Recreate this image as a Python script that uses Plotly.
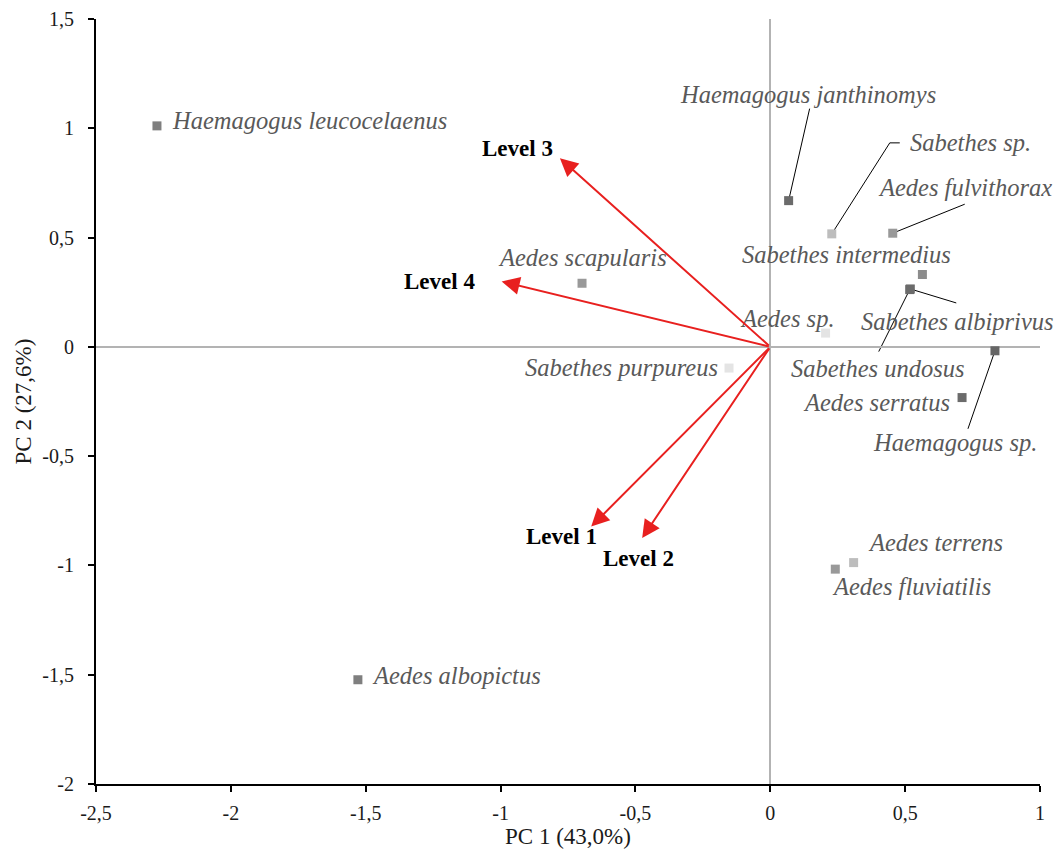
import plotly.graph_objects as go

# ---- data ----
species = [
    "Haemagogus leucocelaenus", "Aedes albopictus", "Aedes scapularis",
    "Sabethes purpureus", "Aedes sp.", "Haemagogus janthinomys",
    "Sabethes sp.", "Aedes fulvithorax", "Sabethes intermedius",
    "Sabethes albiprivus", "Sabethes undosus", "Haemagogus sp.",
    "Aedes serratus", "Aedes terrens", "Aedes fluviatilis",
]
pc1 = [-2.274, -1.529, -0.698, -0.153, 0.205, 0.068, 0.228, 0.454, 0.564,
       0.519, 0.517, 0.833, 0.711, 0.309, 0.241]
pc2 = [1.011, -1.523, 0.291, -0.097, 0.063, 0.669, 0.517, 0.520, 0.331,
       0.265, 0.262, -0.018, -0.232, -0.987, -1.017]
marker_colors = ["#7f7f7f", "#7f7f7f", "#999999", "#e4e4e4", "#e4e4e4",
                 "#6b6b6b", "#bdbdbd", "#999999", "#8c8c8c", "#6b6b6b",
                 "#6b6b6b", "#666666", "#6b6b6b", "#bdbdbd", "#999999"]

levels = ["Level 1", "Level 2", "Level 3", "Level 4"]
load_pc1 = [-0.664, -0.475, -0.780, -0.996]
load_pc2 = [-0.822, -0.875, 0.863, 0.299]

tick_x = [-2.5, -2, -1.5, -1, -0.5, 0, 0.5, 1]
tick_x_text = ["-2,5", "-2", "-1,5", "-1", "-0,5", "0", "0,5", "1"]
tick_y = [-2, -1.5, -1, -0.5, 0, 0.5, 1, 1.5]
tick_y_text = ["-2", "-1,5", "-1", "-0,5", "0", "0,5", "1", "1,5"]

# label placement (pixel offsets from point)
label_anchor = ["left", "left", "center", "right", "center", "center", "left",
                "center", "center", "center", "center", "center", "right",
                "left", "left"]
label_dx = [13, 12, 0, -9, -38, 19, 76, 72, -76, 47, -32, -40, -10, 12, -5]
label_dy = [5, 4, 26, 1, 15, 106, 91, 46, 20, -33, -79, -92, -5, 20, -17]

# leader lines (pixel paths relative to point, y up)
leaders = {
    5: "M0,0 L21,92",
    6: "M0,0 L58,91 L68,91",
    7: "M0,0 L72,29",
    9: "M0,0 L46,-14",
    10: "M0,0 L-31,-62",
    11: "M0,0 L-27,-78",
}

level_dx = [-30, -4, -42, -62]
level_dy = [-10, -20, 10, 0]

FONT = "Liberation Serif, Times New Roman, serif"

fig = go.Figure()
fig.add_trace(go.Scatter(
    x=pc1, y=pc2, mode="markers",
    marker=dict(symbol="square", size=9, color=marker_colors, line=dict(width=0)),
    hovertext=species, hoverinfo="text", showlegend=False,
))

annotations = []
shapes = []
for i, name in enumerate(species):
    annotations.append(dict(
        x=pc1[i], y=pc2[i], xref="x", yref="y", text="<i>%s</i>" % name,
        showarrow=False,
        xanchor=label_anchor[i], yanchor="middle",
        xshift=label_dx[i], yshift=label_dy[i],
        font=dict(family=FONT, size=24.5, color="#595959"),
    ))
    if i in leaders:
        shapes.append(dict(
            type="path", xref="x", yref="y", xsizemode="pixel", ysizemode="pixel",
            xanchor=pc1[i], yanchor=pc2[i], path=leaders[i],
            line=dict(color="#000000", width=1), layer="below",
        ))

for i, lv in enumerate(levels):
    annotations.append(dict(
        x=load_pc1[i], y=load_pc2[i], xref="x", yref="y",
        ax=0, ay=0, axref="x", ayref="y", text="", showarrow=True,
        arrowhead=2, arrowsize=1.8, arrowwidth=2, arrowcolor="#e8201f",
    ))
    annotations.append(dict(
        x=load_pc1[i], y=load_pc2[i], xref="x", yref="y", text="<b>%s</b>" % lv,
        showarrow=False, xanchor="center", yanchor="middle",
        xshift=level_dx[i], yshift=level_dy[i],
        font=dict(family=FONT, size=23, color="#000000"),
    ))

axis_common = dict(
    showgrid=False, zeroline=True, zerolinecolor="#b3b3b3", zerolinewidth=2,
    showline=True, linecolor="#000000", linewidth=2,
    ticks="outside", ticklen=6, tickwidth=2, tickcolor="#000000",
    tickfont=dict(family=FONT, size=20, color="#1a1a1a"),
    automargin=False,
)

fig.update_layout(
    width=1060, height=850,
    margin=dict(l=96, r=20, t=19, b=66),
    paper_bgcolor="white", plot_bgcolor="white",
    font=dict(family=FONT),
    xaxis=dict(range=[-2.5, 1], tickvals=tick_x, ticktext=tick_x_text,
               ticklabelstandoff=4,
               title=dict(text="PC 1 (43,0%)", font=dict(family=FONT, size=23, color="#1a1a1a"), standoff=4),
               **axis_common),
    yaxis=dict(range=[-2, 1.5], tickvals=tick_y, ticktext=tick_y_text,
               ticklabelstandoff=10,
               title=dict(text="PC 2 (27,6%)", font=dict(family=FONT, size=23, color="#1a1a1a"), standoff=4),
               **axis_common),
    annotations=annotations, shapes=shapes,
)

fig.write_html("out.html")
